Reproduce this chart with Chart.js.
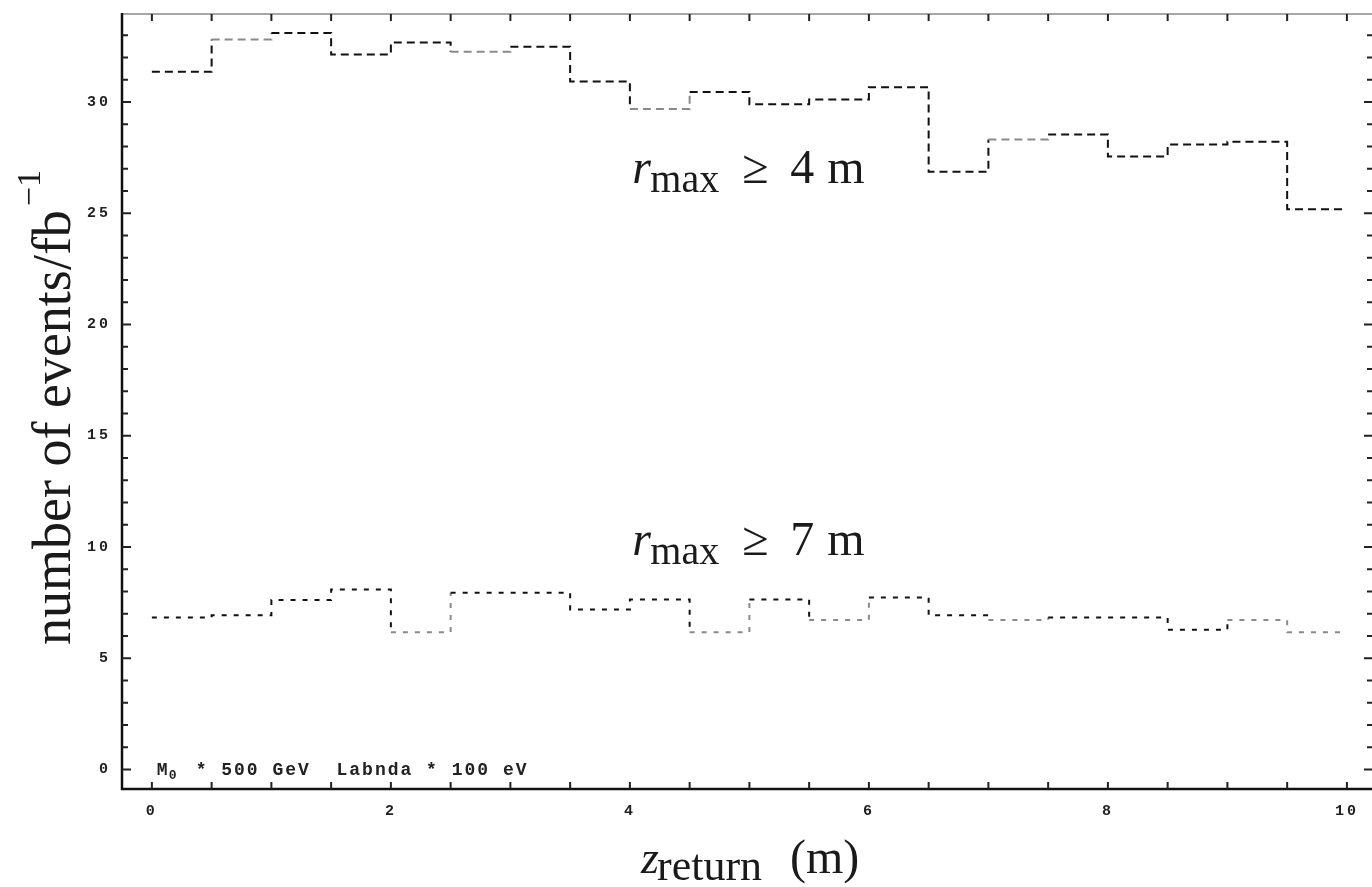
<!DOCTYPE html>
<html>
<head>
<meta charset="utf-8">
<script src="https://cdn.jsdelivr.net/npm/chart.js@4.4.1/dist/chart.umd.min.js"></script>
<style>
  html, body { margin: 0; padding: 0; background: #fff; }
  #wrap { width: 1372px; height: 887px; position: relative; }
</style>
</head>
<body>
<div id="wrap"><canvas id="zChart"></canvas></div>
<script>
// границы бинов по z_return (м)
const zEdges = [0, 0.5, 1, 1.5, 2, 2.5, 3, 3.5, 4, 4.5, 5, 5.5, 6, 6.5, 7, 7.5, 8, 8.5, 9, 9.5, 10];

// r_max >= 4 m
const countsR4 = [31.35, 32.8, 33.1, 32.13, 32.67, 32.25, 32.48, 30.92, 29.68, 30.45,
                  29.89, 30.11, 30.66, 26.86, 28.31, 28.54, 27.55, 28.09, 28.21, 25.18];
// r_max >= 7 m
const countsR7 = [6.83, 6.93, 7.61, 8.09, 6.16, 7.94, 7.94, 7.19, 7.64, 6.17,
                  7.64, 6.71, 7.73, 6.93, 6.72, 6.83, 6.83, 6.28, 6.72, 6.16];

// бины, которые на картинке светлее
const greyBinsR4 = [1, 5, 8, 14];
const greyBinsR7 = [4, 9, 11, 14, 18, 19];

const xTickValues = [0, 2, 4, 6, 8, 10];
const yTickValues = [0, 5, 10, 15, 20, 25, 30];

// точки ступенчатой гистограммы: левый край каждого бина + правый край последнего
function stepPoints(counts) {
  const pts = counts.map((c, i) => ({ x: zEdges[i], y: c }));
  pts.push({ x: zEdges[zEdges.length - 1], y: counts[counts.length - 1] });
  return pts;
}

const SERIF = '"Liberation Serif", "Times New Roman", serif';
const MONO = '"Liberation Mono", "Courier New", monospace';

// рисуем строку из кусков (нижние/верхние индексы)
function drawPieces(ctx, x0, y0, pieces) {
  pieces.forEach(p => {
    ctx.font = p.font;
    ctx.fillText(p.t, x0 + p.dx, y0 + (p.dy || 0));
  });
}

const ticksAndTextPlugin = {
  id: 'ticksAndText',
  beforeDraw(chart) {
    // моноширинные подписи делений идут с разрядкой
    chart.ctx.letterSpacing = '3px';
  },
  afterDraw(chart) {
    const ctx = chart.ctx;
    const { left, right, top, bottom } = chart.chartArea;
    const xs = chart.scales.x;
    const ys = chart.scales.y;
    ctx.save();
    ctx.letterSpacing = '0px';

    // рамка
    ctx.strokeStyle = '#888';
    ctx.lineWidth = 1.5;
    ctx.beginPath();
    ctx.moveTo(left, top); ctx.lineTo(right, top);
    ctx.stroke();
    ctx.strokeStyle = '#111';
    ctx.lineWidth = 2.5;
    ctx.beginPath();
    ctx.moveTo(left, top - 1); ctx.lineTo(left, bottom); ctx.lineTo(right, bottom);
    ctx.stroke();

    // внутренние засечки
    ctx.lineWidth = 2;
    ctx.strokeStyle = '#222';
    ctx.beginPath();
    for (let v = 0; v <= 10.001; v += 0.5) {
      const px = xs.getPixelForValue(v);
      ctx.moveTo(px, bottom); ctx.lineTo(px, bottom - 7);
      ctx.moveTo(px, top); ctx.lineTo(px, top + 7);
    }
    for (let v = 0; v <= 33; v += 1) {
      const py = ys.getPixelForValue(v);
      const len = v % 5 === 0 ? 9 : 6;
      ctx.moveTo(left, py); ctx.lineTo(left + len, py);
      ctx.moveTo(right, py); ctx.lineTo(right - len + 1, py);
    }
    ctx.stroke();

    ctx.fillStyle = '#1a1a1a';
    ctx.textAlign = 'left';
    ctx.textBaseline = 'alphabetic';

    // подпись оси Y
    ctx.save();
    ctx.translate(70, 645);
    ctx.rotate(-Math.PI / 2);
    ctx.font = '54px ' + SERIF;
    const mainW = ctx.measureText('number of events/fb').width;
    drawPieces(ctx, 0, 0, [
      { t: 'number of events/fb', font: '54px ' + SERIF, dx: 0 },
      { t: '\u22121', font: '34px ' + SERIF, dx: mainW + 4, dy: -30 }
    ]);
    ctx.restore();

    // подпись оси X
    const xl = 641, xb = 873;
    drawPieces(ctx, xl, xb, [
      { t: 'z', font: 'italic 46px ' + SERIF, dx: 0 },
      { t: 'return', font: '44px ' + SERIF, dx: 16, dy: 7 },
      { t: '(m)', font: '48px ' + SERIF, dx: 149 }
    ]);

    // метки кривых
    const rLabel = (num, xv, yv) => {
      const ax = xs.getPixelForValue(xv);
      const ay = ys.getPixelForValue(yv);
      drawPieces(ctx, ax, ay, [
        { t: 'r', font: 'italic 48px ' + SERIF, dx: 0 },
        { t: 'max', font: '40px ' + SERIF, dx: 18, dy: 9 },
        { t: '\u2265', font: '48px ' + SERIF, dx: 110 },
        { t: num, font: '48px ' + SERIF, dx: 158 },
        { t: 'm', font: '48px ' + SERIF, dx: 195 }
      ]);
    };
    rLabel('4', 4.02, 26.35);
    rLabel('7', 4.02, 9.63);

    // строка параметров внизу
    const nx = xs.getPixelForValue(0.04);
    const ny = ys.getPixelForValue(-0.26);
    ctx.fillStyle = '#222';
    ctx.letterSpacing = '2px';
    drawPieces(ctx, nx, ny, [
      { t: 'M', font: 'bold 18px ' + MONO, dx: 0 },
      { t: '0', font: 'bold 13px ' + MONO, dx: 12, dy: 4 },
      { t: '* 500 GeV  Labnda * 100 eV', font: 'bold 18px ' + MONO, dx: 39 }
    ]);
    ctx.restore();
  }
};

function initChart() {
  const ctx = document.getElementById('zChart').getContext('2d');
  const segStyle = (greyBins, dark, light) => ({
    borderColor: c => (greyBins.includes(c.p0DataIndex) ? light : dark)
  });

  new Chart(ctx, {
    type: 'line',
    data: {
      datasets: [
        {
          label: 'r_max >= 4 m',
          data: stepPoints(countsR4),
          stepped: 'before',
          borderColor: '#111',
          borderWidth: 2,
          borderDash: [8, 5],
          pointRadius: 0,
          fill: false,
          segment: segStyle(greyBinsR4, '#111', '#8a8a8a')
        },
        {
          label: 'r_max >= 7 m',
          data: stepPoints(countsR7),
          stepped: 'before',
          borderColor: '#111',
          borderWidth: 2,
          borderDash: [5, 7],
          pointRadius: 0,
          fill: false,
          segment: segStyle(greyBinsR7, '#111', '#8a8a8a')
        }
      ]
    },
    options: {
      responsive: false,
      animation: false,
      events: [],
      layout: { padding: { left: 0, right: 0, top: 14, bottom: 0 } },
      plugins: {
        legend: { display: false },
        tooltip: { enabled: false }
      },
      scales: {
        x: {
          type: 'linear',
          min: -0.25,
          max: 10.21,
          grid: { display: false, drawTicks: false },
          border: { display: false },
          afterFit: s => { s.height = 98; s.paddingLeft = 0; s.paddingRight = 0; },
          afterBuildTicks: s => { s.ticks = xTickValues.map(v => ({ value: v })); },
          ticks: {
            padding: 13,
            maxRotation: 0,
            color: '#222',
            font: { family: MONO, size: 15, weight: 'bold' }
          }
        },
        y: {
          type: 'linear',
          min: -0.88,
          max: 33.95,
          grid: { display: false, drawTicks: false },
          border: { display: false },
          afterFit: s => { s.width = 122; s.paddingTop = 0; s.paddingBottom = 0; },
          afterBuildTicks: s => { s.ticks = yTickValues.map(v => ({ value: v })); },
          ticks: {
            padding: 11,
            color: '#222',
            font: { family: MONO, size: 15, weight: 'bold' }
          }
        }
      }
    },
    plugins: [ticksAndTextPlugin]
  });
}

const canvas = document.getElementById('zChart');
canvas.width = 1372;
canvas.height = 887;
document.addEventListener('DOMContentLoaded', initChart);
</script>
</body>
</html>
